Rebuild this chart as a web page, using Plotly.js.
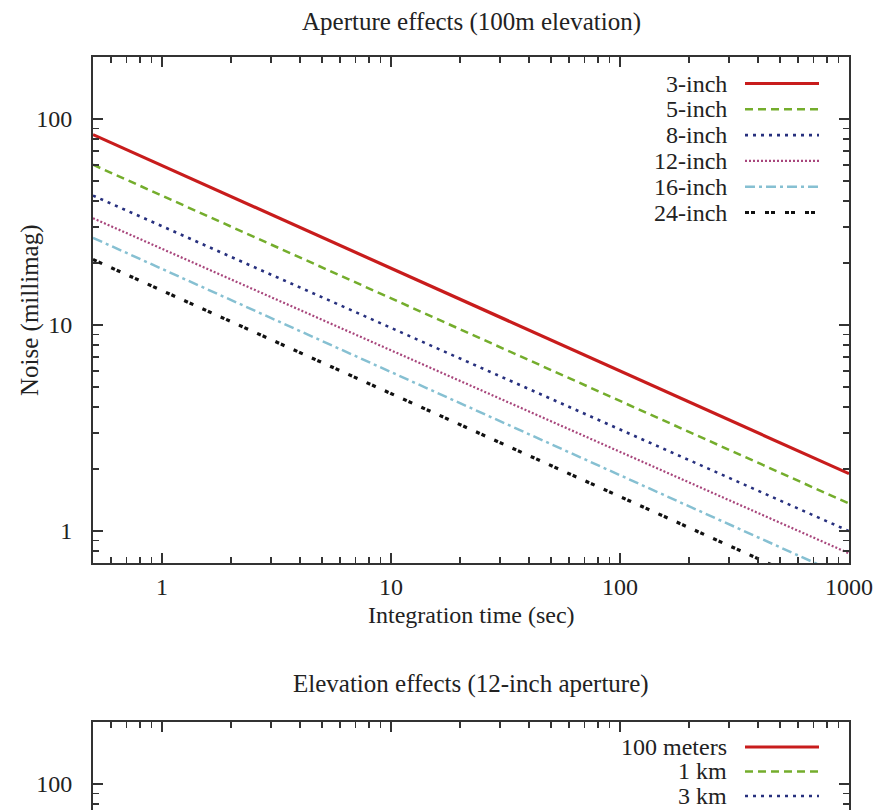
<!DOCTYPE html>
<html>
<head>
<meta charset="utf-8">
<script src="https://cdn.plot.ly/plotly-3.0.1.min.js"></script>
<style>
  html, body { margin: 0; padding: 0; background: #fff; overflow: hidden; }
  #chart { width: 882px; height: 1400px; }
</style>
</head>
<body>
<div id="chart"></div>
<script>
// ---- data ----
const timeSec = [0.5, 1000];

const apertureNames = ['3-inch', '5-inch', '8-inch', '12-inch', '16-inch', '24-inch'];
const noise3in  = [84, 1.9];
const noise5in  = [60, 1.36];
const noise8in  = [42.5, 1.0];
const noise12in = [33, 0.78];
const noise16in = [26.5, 0.59];
const noise24in = [20.8, 0.465];

const elevationNames = ['100 meters', '1 km', '3 km'];
const noise100m = [33, 0.78];
const noise1km  = [29.5, 0.70];
const noise3km  = [23, 0.52];

const xTickVals = [1, 10, 100, 1000];
const xTickText = ['1', '10', '100', '1000'];
const yTickVals = [1, 10, 100];
const yTickText = ['1', '10', '100'];
const minorDigits = [2, 3, 4, 5, 6, 7, 8, 9];

const topTitle = 'Aperture effects (100m elevation)';
const bottomTitle = 'Elevation effects (12-inch aperture)';
const xTitle = 'Integration time (sec)';
const yTitle = 'Noise (millimag)';

// ---- styles ----
const styles = [
  {color: '#c81c1c', dash: 'solid', width: 3.2},
  {color: '#74ad2c', dash: '8px,5px', width: 2.5},
  {color: '#27307e', dash: '3px,5px', width: 2.6},
  {color: '#a8467c', dash: '2px,2px', width: 2.2},
  {color: '#86c0d2', dash: '10px,4px,3px,4px', width: 2.5},
  {color: '#111111', dash: '4px,2px,4px,10px', width: 3.2}
];

const FONT = '"Liberation Serif", "Times New Roman", serif';
const TXT = '#222222';

// minor tick positions (axis decoration, decades x digits)
function minorTicks(lo, hi) {
  const out = [];
  for (let e = -1; e <= 3; e++) {
    minorDigits.forEach(d => {
      const v = d * Math.pow(10, e);
      if (v > lo && v < hi) out.push(+v.toPrecision(3));
    });
  }
  return out;
}

const apertureSeries = [noise3in, noise5in, noise8in, noise12in, noise16in, noise24in];
const elevationSeries = [noise100m, noise1km, noise3km];

const traces = [];
apertureSeries.forEach((ys, i) => {
  traces.push({
    x: timeSec, y: ys, type: 'scatter', mode: 'lines', name: apertureNames[i],
    xaxis: 'x', yaxis: 'y', showlegend: false,
    line: {color: styles[i].color, dash: styles[i].dash, width: styles[i].width}
  });
});
elevationSeries.forEach((ys, i) => {
  traces.push({
    x: timeSec, y: ys, type: 'scatter', mode: 'lines', name: elevationNames[i],
    xaxis: 'x2', yaxis: 'y2', showlegend: false,
    line: {color: styles[i].color, dash: styles[i].dash, width: styles[i].width}
  });
});

// ---- custom legends (text on left, key on right, as in the original) ----
const annotations = [];
const shapes = [];
const PLOT_H = 506, PLOT_W = 756;
function addLegend(names, xref, yref, topPx, step, domainTopPx) {
  names.forEach((n, i) => {
    const py = topPx + i * step;
    const fy = 1 - (py - domainTopPx) / PLOT_H;
    annotations.push({
      xref: xref, yref: yref, x: (729 - 93) / PLOT_W, y: fy,
      xanchor: 'right', yanchor: 'middle', showarrow: false, text: n,
      font: {family: FONT, size: 24, color: TXT}
    });
    shapes.push({
      type: 'line', xref: xref, yref: yref,
      x0: (745 - 93) / PLOT_W, x1: (819 - 93) / PLOT_W, y0: fy, y1: fy,
      line: {color: styles[i].color, dash: styles[i].dash, width: styles[i].width}
    });
  });
}
addLegend(apertureNames, 'x domain', 'y domain', 83.5, 25.8, 57);
addLegend(elevationNames, 'x2 domain', 'y2 domain', 747, 24.5, 722);

// titles
annotations.push({
  xref: 'x domain', yref: 'y domain', x: 0.5, y: 1 + (57 - 22) / PLOT_H,
  xanchor: 'center', yanchor: 'middle', showarrow: false, text: topTitle,
  font: {family: FONT, size: 25, color: TXT}
});
annotations.push({
  xref: 'x domain', yref: 'y domain', x: 0.5, y: -(615 - 563) / PLOT_H,
  xanchor: 'center', yanchor: 'middle', showarrow: false, text: xTitle,
  font: {family: FONT, size: 24, color: TXT}
});
annotations.push({
  xref: 'x domain', yref: 'y domain', x: (30 - 93) / PLOT_W, y: 0.5,
  xanchor: 'center', yanchor: 'middle', showarrow: false, text: yTitle, textangle: -90,
  font: {family: FONT, size: 25, color: TXT}
});
annotations.push({
  xref: 'x2 domain', yref: 'y2 domain', x: 0.5, y: 1 + (722 - 684) / PLOT_H,
  xanchor: 'center', yanchor: 'middle', showarrow: false, text: bottomTitle,
  font: {family: FONT, size: 25, color: TXT}
});

function xAxis(anchor, showLabels) {
  return {
    type: 'log', anchor: anchor, range: [Math.log10(0.5), 3],
    tickmode: 'array', tickvals: xTickVals, ticktext: xTickText, showticklabels: showLabels,
    ticks: 'inside', ticklen: 10, tickwidth: 1.6, tickcolor: '#333',
    minor: {tickmode: 'array', tickvals: minorTicks(0.5, 1000), ticks: 'inside', ticklen: 6,
            tickwidth: 1.6, tickcolor: '#333', showgrid: false},
    showline: true, linecolor: '#333', linewidth: 2, mirror: 'allticks',
    showgrid: false, zeroline: false, ticklabelstandoff: 1,
    tickfont: {family: FONT, size: 24, color: TXT}
  };
}
function yAxis(anchor, domain, labels) {
  return {
    type: 'log', anchor: anchor, domain: domain, range: [Math.log10(0.7), Math.log10(200)],
    tickmode: 'array', tickvals: yTickVals, ticktext: labels,
    ticks: 'inside', ticklen: 10, tickwidth: 1.6, tickcolor: '#333',
    minor: {tickmode: 'array', tickvals: minorTicks(0.7, 200), ticks: 'inside', ticklen: 6,
            tickwidth: 1.6, tickcolor: '#333', showgrid: false},
    showline: true, linecolor: '#333', linewidth: 2, mirror: 'allticks',
    showgrid: false, zeroline: false, ticklabelstandoff: 14,
    tickfont: {family: FONT, size: 24, color: TXT}
  };
}

const layout = {
  width: 882, height: 1400,
  margin: {l: 93, r: 33, t: 57, b: 172},
  paper_bgcolor: '#ffffff', plot_bgcolor: '#ffffff',
  showlegend: false,
  xaxis: xAxis('y', true),
  yaxis: yAxis('x', [0.56789, 1], yTickText),
  xaxis2: xAxis('y2', false),
  // lower panel continues below the visible window; only its top label is on screen
  yaxis2: yAxis('x2', [0, 0.43211], ['', '', '100']),
  annotations: annotations,
  shapes: shapes
};

Plotly.newPlot('chart', traces, layout, {displayModeBar: false, staticPlot: true});
</script>
</body>
</html>
